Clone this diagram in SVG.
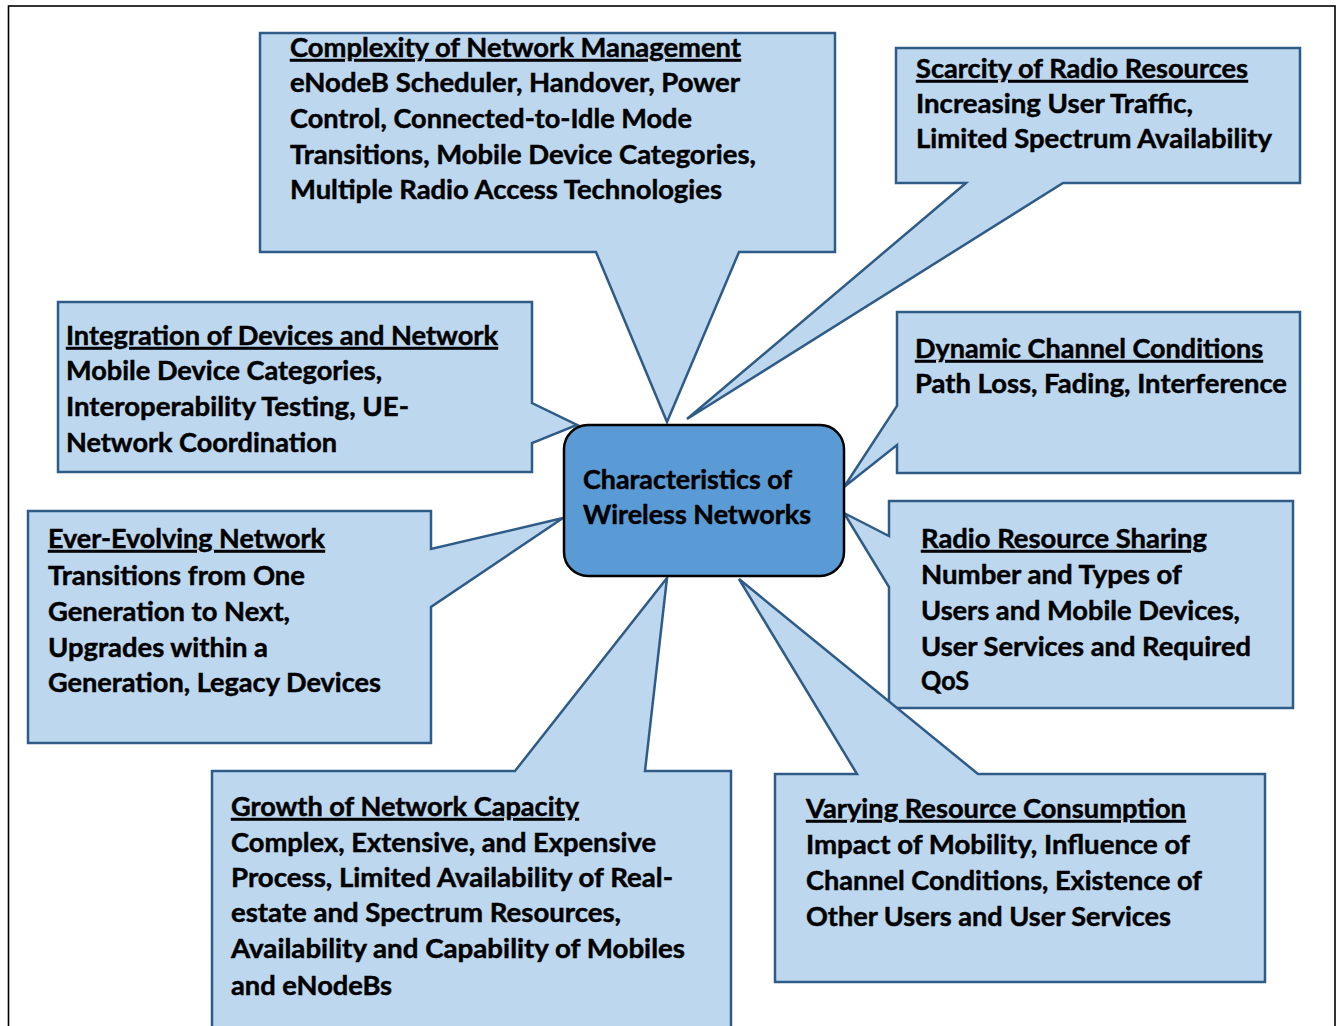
<svg xmlns="http://www.w3.org/2000/svg" width="1338" height="1026" viewBox="0 0 1338 1026">
<style>
.co{fill:#BDD7EE;stroke:#2F5B87;stroke-width:2.5;stroke-linejoin:miter}
.t{font-family:Lato,"Open Sans","Liberation Sans",sans-serif;font-weight:700;font-size:26px;fill:#000;stroke:#000;stroke-width:0.45}
.h{text-decoration:underline}
</style>
<rect width="1338" height="1026" fill="#fff"/>
<rect x="8.5" y="6" width="1326.5" height="1040" fill="none" stroke="#000" stroke-width="1.6"/>
<g id="connectors"></g>
<g id="complexity">
<path class="co" d="M260,33 H835 V252 H739 L667,422 L596,252 H260 Z"/>
<text class="t h" x="290" y="57" textLength="451" lengthAdjust="spacingAndGlyphs">Complexity of Network Management</text>
<text class="t" x="290" y="92" textLength="450" lengthAdjust="spacingAndGlyphs">eNodeB Scheduler, Handover, Power</text>
<text class="t" x="290" y="128" textLength="402" lengthAdjust="spacingAndGlyphs">Control, Connected-to-Idle Mode</text>
<text class="t" x="290" y="164" textLength="466" lengthAdjust="spacingAndGlyphs">Transitions, Mobile Device Categories,</text>
<text class="t" x="290" y="199" textLength="432" lengthAdjust="spacingAndGlyphs">Multiple Radio Access Technologies</text>
</g>
<g id="scarcity">
<path class="co" d="M896,48 H1300 V183 H1063 L687,419 L966,183 H896 Z"/>
<text class="t h" x="916" y="78" textLength="332" lengthAdjust="spacingAndGlyphs">Scarcity of Radio Resources</text>
<text class="t" x="916" y="113" textLength="277" lengthAdjust="spacingAndGlyphs">Increasing User Traffic,</text>
<text class="t" x="916" y="148" textLength="356" lengthAdjust="spacingAndGlyphs">Limited Spectrum Availability</text>
</g>
<g id="integration">
<path class="co" d="M58,302 H532 V403 L577,425 L532,443 V472 H58 Z"/>
<text class="t h" x="66" y="345" textLength="432" lengthAdjust="spacingAndGlyphs">Integration of Devices and Network</text>
<text class="t" x="66" y="380" textLength="316" lengthAdjust="spacingAndGlyphs">Mobile Device Categories,</text>
<text class="t" x="66" y="416" textLength="343" lengthAdjust="spacingAndGlyphs">Interoperability Testing, UE-</text>
<text class="t" x="66" y="452" textLength="271" lengthAdjust="spacingAndGlyphs">Network Coordination</text>
</g>
<g id="evolving">
<path class="co" d="M28,511 H431 V549 L563,518 L431,607 V743 H28 Z"/>
<text class="t h" x="48" y="548" textLength="277" lengthAdjust="spacingAndGlyphs">Ever-Evolving Network</text>
<text class="t" x="48" y="585" textLength="257" lengthAdjust="spacingAndGlyphs">Transitions from One</text>
<text class="t" x="48" y="621" textLength="242" lengthAdjust="spacingAndGlyphs">Generation to Next,</text>
<text class="t" x="48" y="657" textLength="220" lengthAdjust="spacingAndGlyphs">Upgrades within a</text>
<text class="t" x="48" y="692" textLength="333" lengthAdjust="spacingAndGlyphs">Generation, Legacy Devices</text>
</g>
<g id="dynamic">
<path class="co" d="M897,312 H1300 V473 H897 V445 L844,487 L897,406 Z"/>
<text class="t h" x="915" y="358" textLength="348" lengthAdjust="spacingAndGlyphs">Dynamic Channel Conditions</text>
<text class="t" x="915" y="393" textLength="372" lengthAdjust="spacingAndGlyphs">Path Loss, Fading, Interference</text>
</g>
<g id="sharing">
<path class="co" d="M889,501 H1293 V708 H889 V587 L844,513 L889,536 Z"/>
<text class="t h" x="921" y="548" textLength="286" lengthAdjust="spacingAndGlyphs">Radio Resource Sharing</text>
<text class="t" x="921" y="584" textLength="261" lengthAdjust="spacingAndGlyphs">Number and Types of</text>
<text class="t" x="921" y="620" textLength="319" lengthAdjust="spacingAndGlyphs">Users and Mobile Devices,</text>
<text class="t" x="921" y="656" textLength="330" lengthAdjust="spacingAndGlyphs">User Services and Required</text>
<text class="t" x="921" y="690" textLength="48" lengthAdjust="spacingAndGlyphs">QoS</text>
</g>
<g id="growth">
<path class="co" d="M212,771 H515 L667,578 L645,771 H731 V1045 H212 Z"/>
<text class="t h" x="231" y="816" textLength="348" lengthAdjust="spacingAndGlyphs">Growth of Network Capacity</text>
<text class="t" x="231" y="852" textLength="425" lengthAdjust="spacingAndGlyphs">Complex, Extensive, and Expensive</text>
<text class="t" x="231" y="887" textLength="442" lengthAdjust="spacingAndGlyphs">Process, Limited Availability of Real-</text>
<text class="t" x="231" y="922" textLength="390" lengthAdjust="spacingAndGlyphs">estate and Spectrum Resources,</text>
<text class="t" x="231" y="958" textLength="454" lengthAdjust="spacingAndGlyphs">Availability and Capability of Mobiles</text>
<text class="t" x="231" y="995" textLength="161" lengthAdjust="spacingAndGlyphs">and eNodeBs</text>
</g>
<g id="varying">
<path class="co" d="M775,774 H857 L739,579 L978,774 H1265 V982 H775 Z"/>
<text class="t h" x="806" y="818" textLength="380" lengthAdjust="spacingAndGlyphs">Varying Resource Consumption</text>
<text class="t" x="806" y="854" textLength="384" lengthAdjust="spacingAndGlyphs">Impact of Mobility, Influence of</text>
<text class="t" x="806" y="890" textLength="396" lengthAdjust="spacingAndGlyphs">Channel Conditions, Existence of</text>
<text class="t" x="806" y="926" textLength="365" lengthAdjust="spacingAndGlyphs">Other Users and User Services</text>
</g>
<g id="center">
<rect x="564" y="425" width="280" height="151" rx="24" ry="24" fill="#5B9BD5" stroke="#000" stroke-width="2.5"/>
<text class="t" x="583" y="489" textLength="209" lengthAdjust="spacingAndGlyphs">Characteristics of</text>
<text class="t" x="583" y="524" textLength="228" lengthAdjust="spacingAndGlyphs">Wireless Networks</text>
</g>
</svg>
